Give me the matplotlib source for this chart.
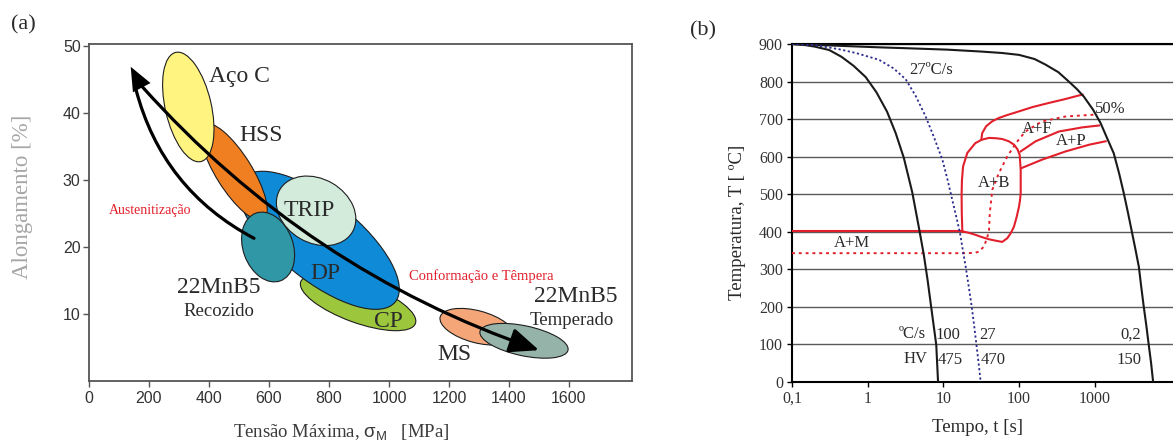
import matplotlib
matplotlib.use("Agg")
import matplotlib.pyplot as plt
from matplotlib.patches import Ellipse
from matplotlib.transforms import ScaledTranslation

W, H, DPI = 1173, 441, 100
SERIF = "Liberation Serif"
SANS = "Liberation Sans"
RED = "#e2202c"
INK = "#2a2a2a"

plt.rcParams["mathtext.fontset"] = "custom"
plt.rcParams["mathtext.rm"] = SANS
plt.rcParams["mathtext.it"] = SANS

# ---------------- (a) resistance x elongation map ----------------
steel_names = ["CP", "DP", "HSS", "Aço C", "TRIP", "22MnB5 recozido", "MS", "22MnB5 temperado"]
steel_uts = [897, 767, 483, 331, 757, 597, 1293, 1450]          # MPa
steel_elong = [11.7, 21.0, 31.2, 40.9, 25.4, 20.0, 8.1, 6.0]    # %
steel_colors = ["#9cc63b", "#0f8ad6", "#f07f22", "#fff47f", "#d3ebdb", "#2f97a6", "#f5a679", "#95b3a8"]
# ellipse extent in pixels (width, height, tilt in degrees)
steel_shape = [(122, 40, -20), (196, 80, -39), (36, 112, 32), (46, 112, 13),
               (84, 64, -30), (50, 72, 20), (76, 32, -15), (90, 30, -12)]

label_text = ["Aço C", "HSS", "TRIP", "DP", "CP", "MS", "22MnB5", "Recozido", "22MnB5", "Temperado"]
label_x = [400, 500, 733, 789, 997, 1218, 433, 433, 1622, 1608]
label_y = [45.4, 36.7, 25.5, 16.1, 8.85, 4.0, 14.0, 10.3, 12.6, 9.0]
label_size = [17, 17, 17, 17, 17, 17, 17, 13.5, 17, 13.5]
label_ha = ["left", "left", "center", "center", "center", "center", "center", "center", "center", "center"]

# arrows: start / end of "Conformação e Têmpera" and "Austenitização"
forming_start = (178, 43.9)
forming_end = (1500, 4.6)
aust_start = (550, 21.3)
aust_end = (156, 43.6)
head_tip = (139, 46.9)
head_base = (172, 44.1)

a_xticks = [0, 200, 400, 600, 800, 1000, 1200, 1400, 1600]
a_yticks = [10, 20, 30, 40, 50]

# ---------------- (b) CCT diagram 22MnB5 ----------------
t_100 = [0.1, 0.15, 0.2, 0.31, 0.45, 0.65, 0.94, 1.3, 1.8, 2.34, 3.0, 3.88, 4.76, 5.5, 6.2, 7.0, 8.05, 8.5]
T_100 = [900, 897, 893, 884, 866, 842, 812, 772, 720, 663, 597, 505, 410, 340, 270, 190, 99, 0]

t_27 = [0.1, 0.2, 0.42, 0.7, 1.41, 2.2, 3.18, 4.3, 5.83, 7.5, 9.7, 11.3, 13.1, 14.8, 16.6,
        18.1, 19.7, 21.6, 23.7, 25.5, 27.2, 29.2, 31.1]
T_27 = [900, 897, 886, 876, 858, 835, 806, 762, 707, 652, 592, 540, 485, 440, 396,
        350, 307, 255, 200, 150, 103, 50, 0]

t_02 = [0.1, 1.47, 3, 11.2, 31, 60, 100, 160, 224, 330, 454, 580, 716, 950, 1190, 1450,
        1780, 2100, 2415, 2750, 3120, 3470, 3820, 4100, 4440, 4800, 5170, 5550, 5900]
T_02 = [900, 891, 889, 885, 880, 876, 871, 860, 845, 825, 800, 780, 760, 725, 690, 650,
        609, 555, 503, 450, 396, 350, 307, 255, 200, 150, 98, 50, 0]

ms_t = [0.1, 17.8]
ms_T = [402, 402]

bainite_t = [17.8, 17.5, 17.4, 17.6, 18.2, 20.7, 26.4, 32, 40.1, 50, 59.9, 73, 85.7, 95, 101.8,
             105, 105, 103, 99.8, 93, 85.7, 78, 70, 59.9, 50, 40.1, 32, 26.4, 21, 17.8]
bainite_T = [401, 450, 500, 538, 574, 610, 636, 645, 650, 649, 647, 641, 632, 620, 605,
             565, 503, 485, 467, 440, 414, 397, 383, 373, 376, 380, 386, 392, 398, 401]

ferrite_t = [31.8, 32.6, 36.7, 44, 54, 70, 90.8, 150, 247, 400, 618, 690]
ferrite_T = [647, 663, 681, 694, 703, 711, 718, 732, 743, 753, 763, 765]

half_t = [0.1, 19.7, 26, 29.5, 34.4, 38, 40.1, 41, 44.3, 54, 70, 90.8, 121, 201, 412, 1017, 1080]
half_T = [343, 343, 344, 347, 361, 385, 405, 450, 512, 556, 601, 636, 667, 694, 707, 712, 713]

pearl1_t = [105, 165.6, 336, 684, 1137]
pearl1_T = [614, 641, 667, 678, 683]
pearl2_t = [109, 201, 412, 850, 1393]
pearl2_T = [570, 592, 614, 632, 641]

b_text = ["27ºC/s", "50%", "A+F", "A+P", "A+B", "A+M", "ºC/s", "100", "27", "0,2", "HV", "475", "470", "150"]
b_text_t = [3.5, 1017, 110, 304, 46.6, 0.61, 5.9, 7.9, 29.5, 4050, 6.1, 8.5, 31, 4100]
b_text_T = [832, 727, 674, 643, 531, 370, 128, 125, 125, 125, 61, 59, 59, 59]
b_text_ha = ["left", "left", "left", "left", "center", "center", "right", "left", "left", "right",
             "right", "left", "left", "right"]

b_xticks = [0.1, 1, 10, 100, 1000]
b_xticklabels = ["0,1", "1", "10", "100", "1000"]
b_yticks = [0, 100, 200, 300, 400, 500, 600, 700, 800, 900]


def draw_region(ax, x, y, shape, color, z):
    w, h, ang = shape
    trans = ax.figure.dpi_scale_trans + ScaledTranslation(x, y, ax.transData)
    e = Ellipse((0, 0), w / DPI, h / DPI, angle=ang, transform=trans,
                facecolor=color, edgecolor="#1e1e1e", lw=0.8, zorder=z)
    ax.add_patch(e)


def panel_a(ax):
    for i in range(len(steel_names)):
        draw_region(ax, steel_uts[i], steel_elong[i], steel_shape[i], steel_colors[i], 2 + i)

    for txt, x, y, s, ha in zip(label_text, label_x, label_y, label_size, label_ha):
        ax.text(x, y, txt, fontsize=s, ha=ha, va="center", family=SERIF, color=INK, zorder=15)

    # long arrow, slightly bent, head at the quenched 22MnB5
    ax.annotate("", xy=forming_end, xytext=forming_start,
                arrowprops=dict(arrowstyle="-|>,head_length=1.0,head_width=0.42",
                                mutation_scale=18, color="black", lw=2.3,
                                shrinkA=0, shrinkB=0, connectionstyle="arc3,rad=0.13"),
                zorder=12)
    # austenitizing arrow, curved, back to the top
    ax.annotate("", xy=aust_end, xytext=aust_start,
                arrowprops=dict(arrowstyle="-", color="black", lw=2.3,
                                shrinkA=0, shrinkB=0, connectionstyle="arc3,rad=-0.22"),
                zorder=12)
    ax.annotate("", xy=head_tip, xytext=head_base,
                arrowprops=dict(arrowstyle="-|>,head_length=1.0,head_width=0.42",
                                mutation_scale=17, color="black", lw=0,
                                shrinkA=0, shrinkB=0), zorder=12)

    ax.text(203, 25.5, "Austenitização", color=RED, fontsize=10, family=SERIF,
            ha="center", va="center", zorder=15)
    ax.text(1306, 15.6, "Conformação e Têmpera", color=RED, fontsize=10.5, family=SERIF,
            ha="center", va="center", zorder=15)

    ax.set_xlim(0, 1810)
    ax.set_ylim(0, 50.3)
    ax.set_xticks(a_xticks)
    ax.set_yticks(a_yticks)
    ax.tick_params(direction="out", length=4.5, width=1, color="#555", pad=1.5,
                   labelsize=11.5, labelcolor="#333")
    ax.tick_params(axis="x", pad=3)
    for lab in ax.get_xticklabels() + ax.get_yticklabels():
        lab.set_family(SANS)
    for sp in ax.spines.values():
        sp.set_color("#555")
        sp.set_linewidth(1.3)


def panel_b(ax):
    ax.set_xscale("log")
    ax.set_xlim(0.1, 10800)
    ax.set_ylim(0, 900)
    ax.set_yticks(b_yticks)
    ax.set_xticks(b_xticks)
    ax.set_xticklabels(b_xticklabels)
    ax.minorticks_off()
    ax.grid(axis="y", color="#5a5a5a", lw=1.0, zorder=1)

    ax.plot(t_100, T_100, color="#1a1a1a", lw=1.5, zorder=4)
    ax.plot(t_02, T_02, color="#1a1a1a", lw=1.5, zorder=4)
    ax.plot(t_27, T_27, color="#2a2a8c", lw=1.3, ls=(0, (1.2, 1.4)), zorder=4)

    ax.plot(ms_t, ms_T, color=RED, lw=1.5, zorder=3)
    ax.plot(bainite_t, bainite_T, color=RED, lw=1.5, zorder=3)
    ax.plot(ferrite_t, ferrite_T, color=RED, lw=1.5, zorder=3)
    ax.plot(pearl1_t, pearl1_T, color=RED, lw=1.5, zorder=3)
    ax.plot(pearl2_t, pearl2_T, color=RED, lw=1.5, zorder=3)
    ax.plot(half_t, half_T, color=RED, lw=1.4, ls=(0, (1.5, 2.0)), zorder=3)

    for txt, t, T, ha in zip(b_text, b_text_t, b_text_T, b_text_ha):
        ax.text(t, T, txt, fontsize=12, ha=ha, va="center", family=SERIF, color=INK, zorder=6)

    ax.spines["right"].set_visible(False)
    for k in ("left", "top", "bottom"):
        ax.spines[k].set_color("black")
        ax.spines[k].set_linewidth(1.5)
    ax.tick_params(direction="out", length=3.5, width=1, pad=3, labelsize=11.5,
                   labelcolor="#333")
    for lab in ax.get_xticklabels() + ax.get_yticklabels():
        lab.set_family(SERIF)


def main():
    fig = plt.figure(figsize=(W / DPI, H / DPI), dpi=DPI)

    ax_a = fig.add_axes([89 / W, 1 - 381 / H, 543 / W, 337 / H])
    panel_a(ax_a)
    ax_b = fig.add_axes([792 / W, 1 - 382 / H, (W - 792) / W, 338 / H])
    panel_b(ax_b)

    # panel tags and axis titles
    fig.text(23 / W, 1 - 25 / H, "(a)", fontsize=16, family=SERIF, ha="center", va="center", color=INK)
    fig.text(703 / W, 1 - 31 / H, "(b)", fontsize=16, family=SERIF, ha="center", va="center", color=INK)
    fig.text(23 / W, 1 - 197 / H, "Alongamento [%]", rotation=90, fontsize=16.5, family=SERIF,
             ha="center", va="center", color="#a6a6a6")
    fig.text(341 / W, 1 - 432 / H, r"Tensão Máxima, $\sigma_{\mathrm{M}}$   [MPa]", fontsize=13.5,
             family=SERIF, ha="center", va="center", color="#3a3a3a")
    fig.text(737 / W, 1 - 222 / H, "Temperatura, T [ ºC]", rotation=90, fontsize=13.5, family=SERIF,
             ha="center", va="center", color=INK)
    fig.text(977 / W, 1 - 427 / H, "Tempo, t [s]", fontsize=13.5, family=SERIF,
             ha="center", va="center", color=INK)

    fig.savefig("out.png", dpi=DPI)


if __name__ == "__main__":
    main()
